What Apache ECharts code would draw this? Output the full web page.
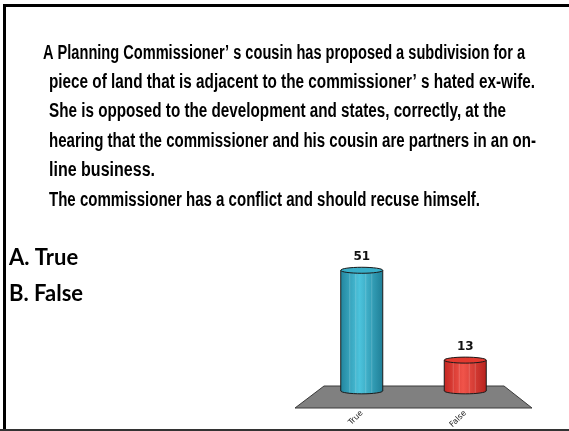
<!DOCTYPE html>
<html>
<head>
<meta charset="utf-8">
<script src="https://cdn.jsdelivr.net/npm/echarts@6/dist/echarts.min.js"></script>
<style>html,body{margin:0;padding:0;background:#fff}#c{width:569px;height:431px}</style>
</head>
<body>
<div id="c"></div>
<script>
const categories = ['True', 'False'];
const values = [51, 13];
const questionLines = [
  'A Planning Commissioner\u2019 s cousin has proposed a subdivision for a',
  'piece of land that is adjacent to the commissioner\u2019 s hated ex-wife.',
  'She is opposed to the development and states, correctly, at the',
  'hearing that the commissioner and his cousin are partners in an on-',
  'line business.',
  'The commissioner has a conflict and should recuse himself.'
];
const answers = ['A. True', 'B. False'];

const colors = [
  {l: '#23869f', m: '#4cc3dc', r: '#1f7f97', top: '#38aec8'},
  {l: '#c52722', m: '#f0544a', r: '#b8231e', top: '#e2392f'}
];

// layout of the question text (start x, right end x)
const lineStart = [43, 49, 49, 49, 49, 49];
const lineEnd = [525, 535, 506, 536, 155, 480];

const titleFontStr = 'bold 20px "Liberation Sans", Arial, sans-serif';
const mctx = document.createElement('canvas').getContext('2d');
mctx.font = titleFontStr;

const graphics = [];
graphics.push({type: 'rect', shape: {x: 3, y: 4, width: 566, height: 3}, style: {fill: '#000'}, z: 100});
graphics.push({type: 'rect', shape: {x: 3, y: 4, width: 3, height: 427}, style: {fill: '#000'}, z: 100});
graphics.push({type: 'rect', shape: {x: 0, y: 429, width: 569, height: 2}, style: {fill: '#333'}, z: 100});
questionLines.forEach((t, i) => {
  const s = (lineEnd[i] - lineStart[i]) / mctx.measureText(t).width;
  graphics.push({type: 'text', x: lineStart[i], y: 53 + i * 29.4, scaleX: s,
    style: {text: t, font: titleFontStr, fill: '#000', textVerticalAlign: 'middle'}});
});
answers.forEach((t, i) => {
  graphics.push({type: 'text', x: 9, y: 258 + i * 36,
    style: {text: t, font: 'bold 22px Lato, "Open Sans", sans-serif', fill: '#000', textVerticalAlign: 'middle'}});
});
// floor
graphics.push({type: 'polygon', shape: {points: [[324, 386], [504, 386], [532, 408], [295, 408]]},
  style: {fill: '#808080', stroke: '#3a3a3a', lineWidth: 1}, z: -10});

const chart = echarts.init(document.getElementById('c'), null, {renderer: 'canvas'});
chart.setOption({
  backgroundColor: '#fff',
  animation: false,
  graphic: graphics,
  grid: {left: 310, right: 52, top: 249, bottom: 35},
  xAxis: {type: 'category', data: categories,
    axisLine: {show: false}, axisTick: {show: false},
    axisLabel: {rotate: 45, margin: 21, fontSize: 8, color: '#222', fontFamily: 'DejaVu Sans'}},
  yAxis: {type: 'value', min: 0, max: 60, show: false},
  series: [{
    type: 'custom',
    data: values.map((v, i) => [i, v]),
    z: 10,
    renderItem: function (params, api) {
      const i = api.value(0);
      const top = api.coord([i, api.value(1)]);
      const base = api.coord([i, 0]);
      const rx = 21, ry = 3;
      const c = colors[i];
      const x = top[0];
      const grad = new echarts.graphic.LinearGradient(0, 0, 1, 0, [
        {offset: 0, color: c.l}, {offset: 0.45, color: c.m}, {offset: 1, color: c.r}]);
      const children = [
        {type: 'ellipse', shape: {cx: x, cy: base[1], rx: rx, ry: ry}, style: {fill: grad, stroke: '#1a1a1a', lineWidth: 1}},
        {type: 'rect', shape: {x: x - rx, y: top[1], width: rx * 2, height: base[1] - top[1]}, style: {fill: grad}},
        {type: 'line', shape: {x1: x - rx, y1: top[1], x2: x - rx, y2: base[1]}, style: {stroke: '#1a1a1a', lineWidth: 1}},
        {type: 'line', shape: {x1: x + rx, y1: top[1], x2: x + rx, y2: base[1]}, style: {stroke: '#1a1a1a', lineWidth: 1}}
      ];
      [-12, -6, 4, 10].forEach(dx => {
        children.push({type: 'line', shape: {x1: x + dx, y1: top[1], x2: x + dx, y2: base[1] + 2},
          style: {stroke: 'rgba(255,255,255,0.18)', lineWidth: 1}});
      });
      children.push({type: 'ellipse', shape: {cx: x, cy: top[1], rx: rx, ry: ry}, style: {fill: c.top, stroke: '#1a1a1a', lineWidth: 1}});
      children.push({type: 'text', x: x, y: top[1] - 7,
        style: {text: String(api.value(1)), font: 'bold 12px "DejaVu Sans", sans-serif', fill: '#111', textAlign: 'center', textVerticalAlign: 'bottom'}});
      return {type: 'group', children: children};
    }
  }]
});
</script>
</body>
</html>
